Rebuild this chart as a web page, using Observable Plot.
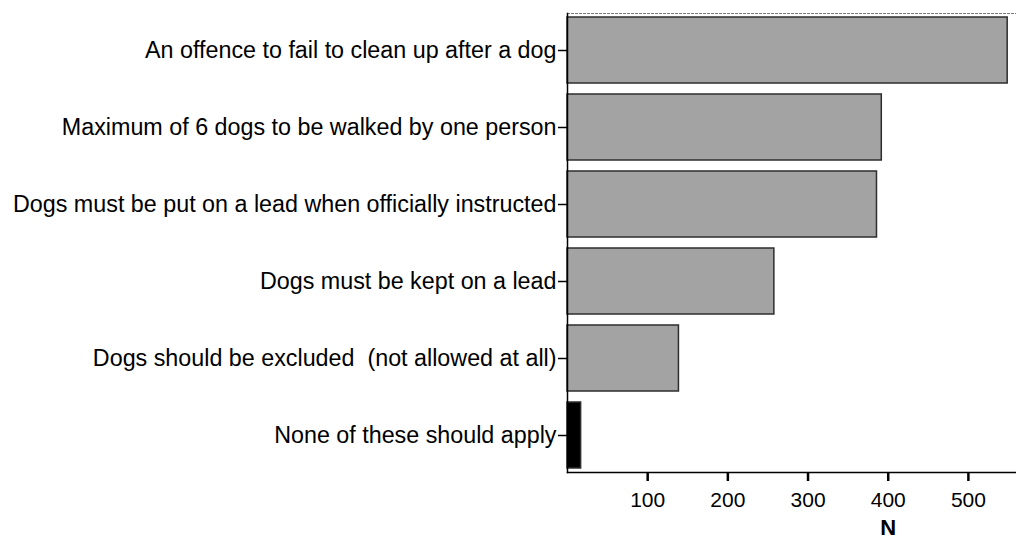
<!DOCTYPE html>
<html>
<head>
<meta charset="utf-8">
<script src="https://cdn.jsdelivr.net/npm/d3@7"></script>
<script src="https://cdn.jsdelivr.net/npm/@observablehq/plot@0.6"></script>
<style>
  html, body { margin: 0; padding: 0; background: #fff; }
  #chart svg { display: block; }
</style>
</head>
<body>
<div id="chart"></div>
<script>
const categories = [
  "An offence to fail to clean up after a dog",
  "Maximum of 6 dogs to be walked by one person",
  "Dogs must be put on a lead when officially instructed",
  "Dogs must be kept on a lead",
  "Dogs should be excluded  (not allowed at all)",
  "None of these should apply"
];
const counts = [549, 392, 386, 258, 139, 17];
const fills = ["#a3a3a3", "#a3a3a3", "#a3a3a3", "#a3a3a3", "#a3a3a3", "#000000"];
const xTicks = [100, 200, 300, 400, 500];

const data = categories.map((c, i) => ({category: c, n: counts[i], fill: fills[i]}));

const chart = Plot.plot({
  width: 1016,
  height: 538,
  marginTop: 13,
  marginBottom: 66,
  marginLeft: 567,
  marginRight: 0,
  style: {fontFamily: "'Liberation Sans', Arial, sans-serif", background: "#fff", color: "#000"},
  x: {domain: [0, 560], label: null},
  y: {domain: categories, paddingInner: 0.143, paddingOuter: 0.05, label: null},
  marks: [
    Plot.barX(data, {y: "category", x: "n", fill: d => d.fill, stroke: "#2e2e2e", strokeWidth: 1.5}),
    Plot.frame({anchor: "top", stroke: "#777", strokeDasharray: "2,2"}),
    Plot.frame({anchor: "left", stroke: "#000", strokeWidth: 1.5}),
    Plot.frame({anchor: "bottom", stroke: "#000", strokeWidth: 1.5}),
    Plot.axisY({tickSize: 9, tickPadding: 2, fontSize: 23.3, strokeWidth: 1.5, tickFormat: d => d, label: null}),
    Plot.axisX({ticks: xTicks, tickSize: 9, tickPadding: 11, fontSize: 21, strokeWidth: 2.5, label: null,
      fontFamily: "'Liberation Sans Narrow', 'Arial Narrow', 'Liberation Sans', sans-serif"}),
    Plot.text(["N"], {frameAnchor: "bottom", x: 400, dy: 62, text: d => d, fontSize: 22, fontWeight: "bold", lineAnchor: "bottom"})
  ]
});
document.getElementById("chart").append(chart);
</script>
</body>
</html>
